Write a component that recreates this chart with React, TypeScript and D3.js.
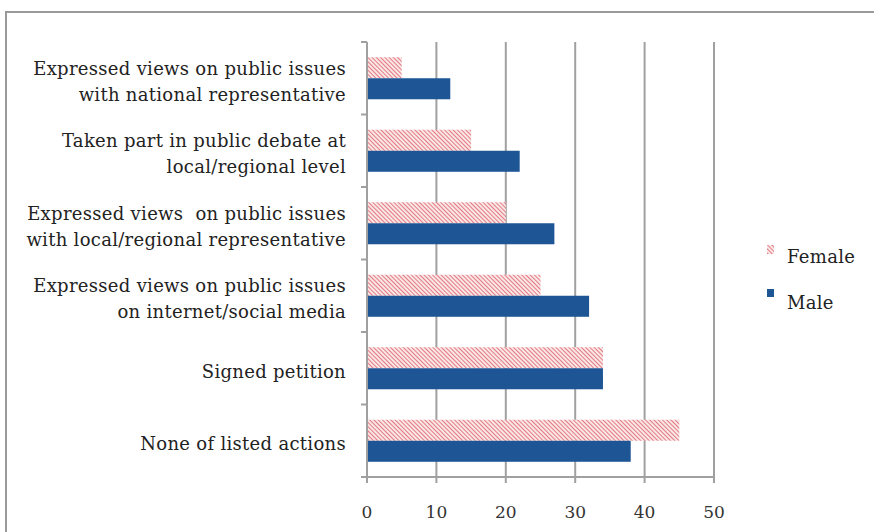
import React from "react";
import * as d3 from "d3";

const categories: string[][] = [
  ["Expressed views on public issues", "with national representative"],
  ["Taken part in public debate at", "local/regional level"],
  ["Expressed views  on public issues", "with local/regional representative"],
  ["Expressed views on public issues", "on internet/social media"],
  ["Signed petition"],
  ["None of listed actions"],
];
const female: number[] = [5, 15, 20, 25, 34, 45];
const male: number[] = [12, 22, 27, 32, 34, 38];
const xTicks: number[] = [0, 10, 20, 30, 40, 50];
const seriesNames = ["Female", "Male"];

const W = 874;
const H = 532;
const plot = { left: 367, right: 714, top: 42, bottom: 477 };
const BLUE = "#1d5595";
const PINK = "#e06f78";
const GRID = "#a0a0a0";
const FONT = "'DejaVu Serif', serif";

export default function App() {
  const x = d3.scaleLinear().domain([0, 50]).range([plot.left, plot.right]);
  const idx = categories.map((_, i) => String(i));
  const y = d3
    .scaleBand<string>()
    .domain(idx)
    .range([plot.top, plot.bottom])
    .paddingInner(0.42)
    .paddingOuter(0.21);
  const sub = d3.scaleBand<string>().domain(seriesNames).range([0, y.bandwidth()]);
  const outer = d3.scaleBand<string>().domain(idx).range([plot.top, plot.bottom]);
  const boundaries = idx.map((d) => outer(d)!).concat([plot.bottom]);

  return (
    <svg
      width={W}
      height={H}
      style={{ position: "absolute", left: 0, top: 0, background: "#fff" }}
      fontFamily={FONT}
    >
      <defs>
        <pattern id="hatch" width="3" height="3" patternUnits="userSpaceOnUse" patternTransform="rotate(-45)">
          <rect width="3" height="3" fill="#fbe6e6" />
          <line x1="0" y1="0" x2="0" y2="3" stroke={PINK} strokeWidth="1.8" />
        </pattern>
      </defs>
      <rect x={0} y={0} width={W} height={H} fill="#fff" />
      {/* frame */}
      <path d={`M6,${H} L6,12 L${W},12`} fill="none" stroke="#9a9a9a" strokeWidth={2} />
      {/* gridlines */}
      {xTicks.slice(1).map((t) => (
        <line key={t} x1={x(t)} x2={x(t)} y1={plot.top} y2={plot.bottom + 6} stroke={GRID} strokeWidth={2} />
      ))}
      {/* bottom axis */}
      <line x1={plot.left} x2={plot.right} y1={plot.bottom} y2={plot.bottom} stroke={GRID} strokeWidth={2} />
      <line x1={plot.left} x2={plot.left} y1={plot.top} y2={plot.bottom + 6} stroke={GRID} strokeWidth={2} />
      {boundaries.map((b, i) => (
        <line key={i} x1={plot.left - 6} x2={plot.left} y1={b} y2={b} stroke={GRID} strokeWidth={2} />
      ))}
      {xTicks.map((t) => (
        <text key={t} x={x(t)} y={plot.bottom + 41} textAnchor="middle" fontSize={17} fill="#333">
          {t}
        </text>
      ))}
      {/* bars */}
      {idx.map((d, i) => (
        <g key={d}>
          <rect x={x(0) + 1} y={y(d)! + sub("Female")!} width={x(female[i]) - x(0) - 1} height={sub.bandwidth()} fill="url(#hatch)" />
          <rect x={x(0) + 1} y={y(d)! + sub("Male")!} width={x(male[i]) - x(0) - 1} height={sub.bandwidth()} fill={BLUE} />
        </g>
      ))}
      {/* category labels */}
      {idx.map((d, i) => {
        const lines = categories[i];
        const cy = outer(d)! + outer.bandwidth() / 2 + 3;
        const lh = 26;
        return (
          <text key={d} textAnchor="end" fontSize={18} letterSpacing={0.3} fill="#222">
            {lines.map((l, j) => (
              <tspan key={j} x={346} y={cy + (j - (lines.length - 1) / 2) * lh} dominantBaseline="central" style={{ whiteSpace: "pre" }}>
                {l}
              </tspan>
            ))}
          </text>
        );
      })}
      {/* legend */}
      <rect x={767} y={245} width={7} height={9} fill="url(#hatch)" />
      <text x={787} y={256} fontSize={18} letterSpacing={0.3} fill="#222" dominantBaseline="central">Female</text>
      <rect x={767} y={289} width={7} height={8} fill={BLUE} />
      <text x={787} y={302} fontSize={18} letterSpacing={0.3} fill="#222" dominantBaseline="central">Male</text>
    </svg>
  );
}
